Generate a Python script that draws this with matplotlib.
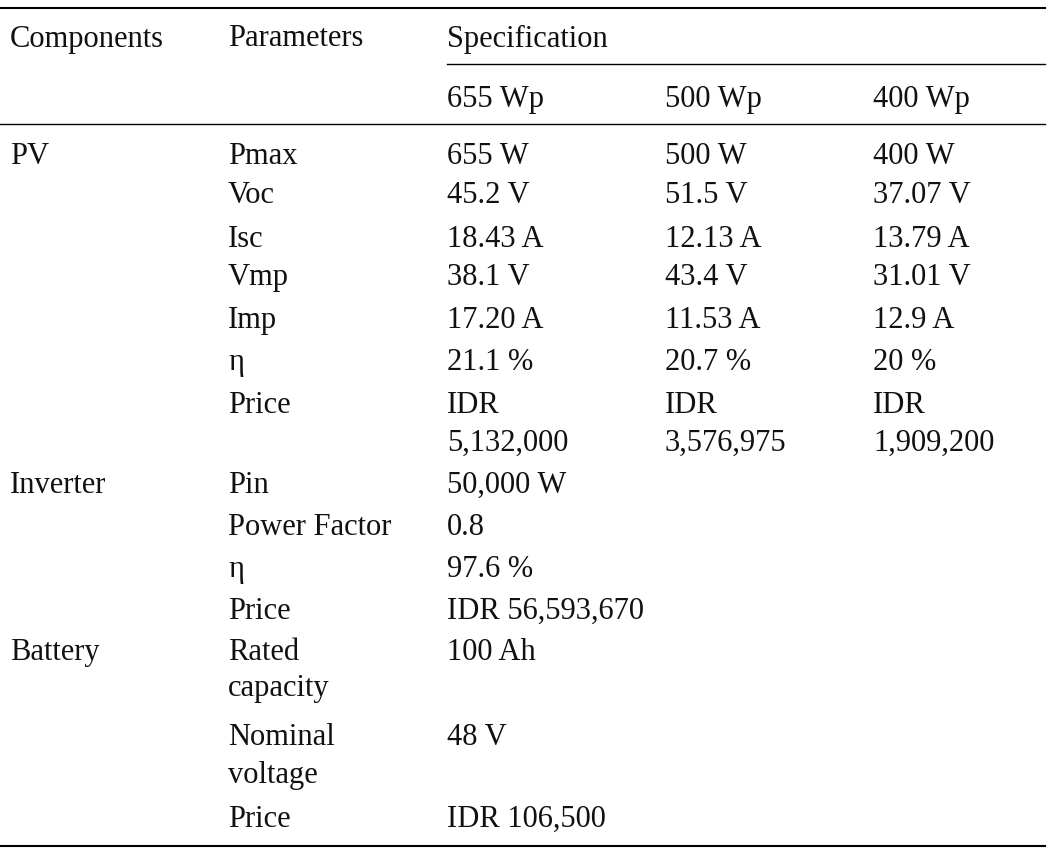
import matplotlib
matplotlib.use("Agg")
import matplotlib.pyplot as plt

header_cols = ["Components", "Parameters", "Specification"]
sub_header = ["655 Wp", "500 Wp", "400 Wp"]
# rows: (y position in px, component, parameter, values...)
row_y = [157, 195, 239, 277, 320, 362, 405, 443, 485, 527, 569, 611, 652, 688, 737, 775, 819]
components = ["PV", "", "", "", "", "", "", "", "Inverter", "", "", "", "Battery", "", "", "", ""]
parameters = ["Pmax", "Voc", "Isc", "Vmp", "Imp", "\u03b7", "Price", "", "Pin", "Power Factor",
              "\u03b7", "Price", "Rated", "capacity", "Nominal", "voltage", "Price"]
col655 = ["655 W", "45.2 V", "18.43 A", "38.1 V", "17.20 A", "21.1 %", "IDR", "5,132,000",
          "50,000 W", "0.8", "97.6 %", "IDR 56,593,670", "100 Ah", "", "48 V", "", "IDR 106,500"]
col500 = ["500 W", "51.5 V", "12.13 A", "43.4 V", "11.53 A", "20.7 %", "IDR", "3,576,975",
          "", "", "", "", "", "", "", "", ""]
col400 = ["400 W", "37.07 V", "13.79 A", "31.01 V", "12.9 A", "20 %", "IDR", "1,909,200",
          "", "", "", "", "", "", "", "", ""]

W, H = 1055, 855
fig = plt.figure(figsize=(W / 100, H / 100), dpi=100)
ax = fig.add_axes([0, 0, 1, 1])
ax.set_xlim(0, W)
ax.set_ylim(H, 0)
ax.axis("off")

font = dict(family="Liberation Serif", fontsize=22, va="center", ha="left", color="#111111")
xs = [10, 228, 447, 665, 873]

ax.plot([0, 1045], [8, 8], color="black", lw=1.5)
ax.plot([447, 1045], [64, 64], color="black", lw=1.0)
ax.plot([0, 1045], [124, 124], color="black", lw=1.0)
ax.plot([0, 1045], [846, 846], color="black", lw=1.5)

for x, t in zip(xs[:3], header_cols):
    ax.text(x, 39, t, **font)
for x, t in zip(xs[2:], sub_header):
    ax.text(x, 99, t, **font)

for i, y in enumerate(row_y):
    for x, t in zip(xs, [components[i], parameters[i], col655[i], col500[i], col400[i]]):
        if t:
            ax.text(x, y, t, **font)

fig.savefig("out.png", dpi=100)
